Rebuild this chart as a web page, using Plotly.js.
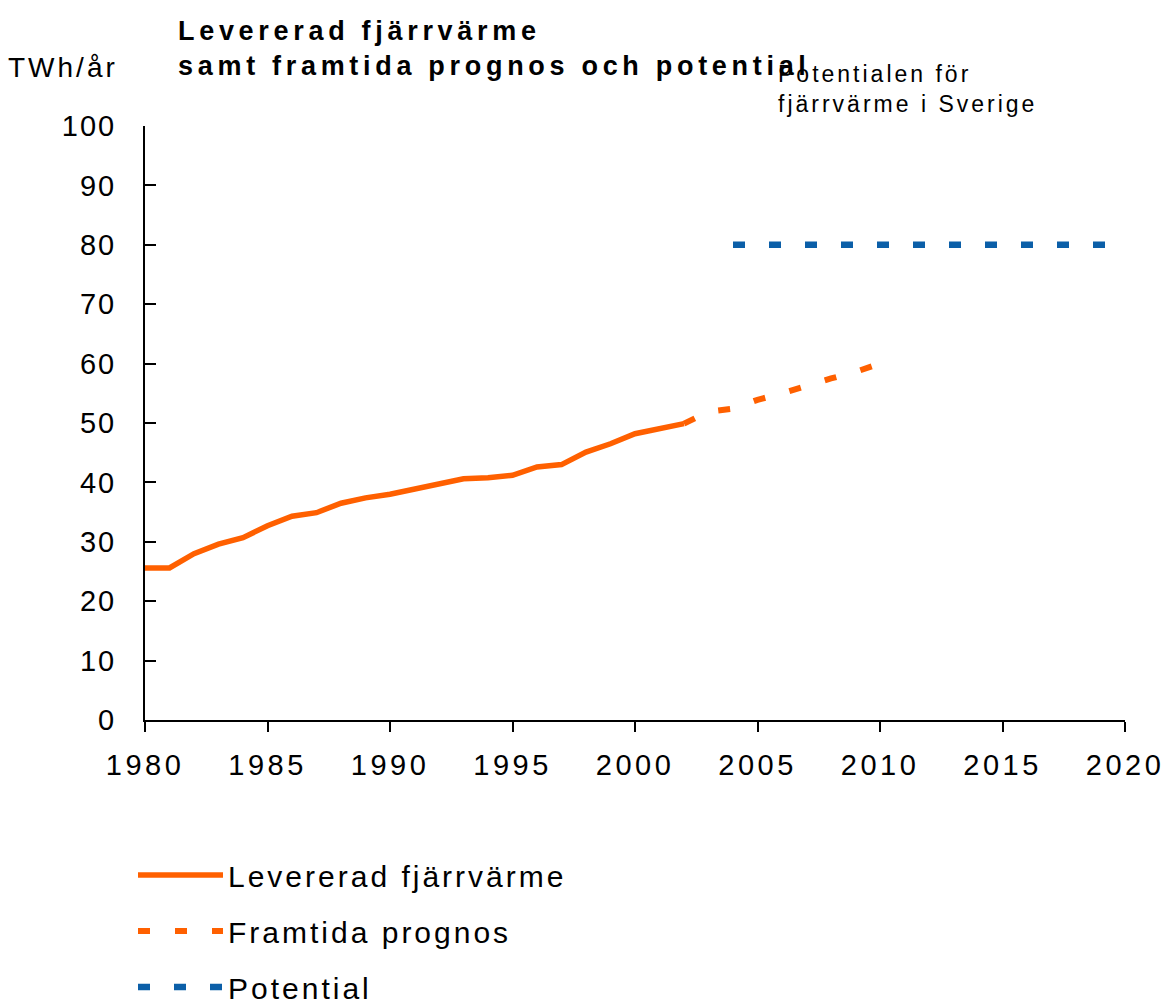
<!DOCTYPE html>
<html>
<head>
<meta charset="utf-8">
<script src="https://cdn.plot.ly/plotly-3.0.1.min.js"></script>
<style>
  html, body { margin: 0; padding: 0; background: #ffffff; }
  #chart { width: 1165px; height: 1004px; }
  .gtitle { letter-spacing: 4.7px; }
  .legendtext { letter-spacing: 3px; }
  .xtick text { letter-spacing: 3.5px; }
  .ytick text { letter-spacing: 2px; }
  .annotation[data-index="0"] text { letter-spacing: 3px; }
  .annotation[data-index="1"] text { letter-spacing: 3px; }
</style>
</head>
<body>
<div id="chart"></div>
<script>
// Levererad fjärrvärme (TWh/år), 1980–2002
var deliveredYears = [1980, 1981, 1982, 1983, 1984, 1985, 1986, 1987, 1988, 1989, 1990, 1991,
                      1992, 1993, 1994, 1995, 1996, 1997, 1998, 1999, 2000, 2001, 2002];
var deliveredValues = [25.6, 25.6, 28.0, 29.6, 30.7, 32.7, 34.3, 34.9, 36.5, 37.4, 38.0, 38.9,
                       39.7, 40.6, 40.8, 41.2, 42.6, 43.0, 45.1, 46.5, 48.2, 49.1, 49.9];

// Framtida prognos
var forecastYears = [2002, 2003, 2004, 2005, 2006, 2007, 2008, 2009, 2010];
var forecastValues = [49.9, 51.9, 52.4, 53.9, 55.0, 56.3, 57.5, 58.6, 60.0];

// Potential
var potentialYears = [2004, 2020];
var potentialValues = [80, 80];

var seriesNames = ["Levererad fjärrvärme", "Framtida prognos", "Potential"];
var titleLines = ["Levererad fjärrvärme", "samt framtida prognos och potential"];
var unitLabel = "TWh/år";
var noteLines = ["Potentialen för", "fjärrvärme i Sverige"];

var orange = "#FF6000";
var blue = "#0B5FA8";
var fontFam = "Liberation Sans, Arial, sans-serif";

var traces = [
  {
    x: deliveredYears, y: deliveredValues, name: seriesNames[0],
    type: "scatter", mode: "lines", legendgroup: "a",
    line: { color: orange, width: 5.5 }
  },
  {
    x: forecastYears, y: forecastValues, name: seriesNames[1],
    type: "scatter", mode: "lines", legendgroup: "b",
    line: { color: orange, width: 6, dash: "12px,25px" }
  },
  {
    x: potentialYears, y: potentialValues, name: seriesNames[2],
    type: "scatter", mode: "lines", legendgroup: "c",
    line: { color: blue, width: 6.5, dash: "12px,24px" }
  }
];

var layout = {
  width: 1165, height: 1004,
  paper_bgcolor: "#ffffff", plot_bgcolor: "#ffffff",
  margin: { l: 145, r: 40, t: 126, b: 284, pad: 0, autoexpand: false },
  font: { family: fontFam, color: "#000000", size: 28 },
  title: {
    text: "<b>" + titleLines[0] + "<br>" + titleLines[1] + "</b>",
    font: { family: fontFam, size: 27, color: "#000000" },
    xref: "container", yref: "container",
    x: 178 / 1165, xanchor: "left",
    y: 1 - 40 / 1004, yanchor: "top"
  },
  xaxis: {
    range: [1980, 2020], dtick: 5, tick0: 1980,
    showgrid: false, zeroline: false,
    showline: true, linecolor: "#000000", linewidth: 2,
    ticks: "outside", ticklen: 10, tickwidth: 2, tickcolor: "#000000",
    tickfont: { family: fontFam, size: 29, color: "#000000" },
    ticklabelstandoff: 8,
    fixedrange: true
  },
  yaxis: {
    range: [0, 100], dtick: 10, tick0: 0,
    showgrid: false, zeroline: false,
    showline: true, linecolor: "#000000", linewidth: 2,
    ticks: "inside", ticklen: 11, tickwidth: 2, tickcolor: "#000000",
    tickfont: { family: fontFam, size: 29, color: "#000000" },
    ticklabelstandoff: 21,
    fixedrange: true
  },
  showlegend: true,
  legend: {
    x: 133 / 1165, xanchor: "left", xref: "container",
    y: 1 - 849 / 1004, yanchor: "top", yref: "container",
    orientation: "v", traceorder: "grouped", tracegroupgap: 14,
    itemwidth: 85,
    font: { family: fontFam, size: 30, color: "#000000" },
    bgcolor: "rgba(0,0,0,0)", borderwidth: 0
  },
  annotations: [
    {
      text: unitLabel, xref: "paper", yref: "paper",
      x: (15 - 145) / 980, xanchor: "left",
      y: (720.3 - 67) / 594.3, yanchor: "middle",
      showarrow: false,
      font: { family: fontFam, size: 28, color: "#000000" }
    },
    {
      text: noteLines[0] + "<br>" + noteLines[1], xref: "paper", yref: "paper",
      x: (776 - 145) / 980, xanchor: "left", align: "left",
      y: (720.3 - 89) / 594.3, yanchor: "middle",
      showarrow: false,
      font: { family: fontFam, size: 23, color: "#000000" }
    }
  ],
  hovermode: false
};

Plotly.newPlot("chart", traces, layout, { displayModeBar: false, staticPlot: true });
</script>
</body>
</html>
